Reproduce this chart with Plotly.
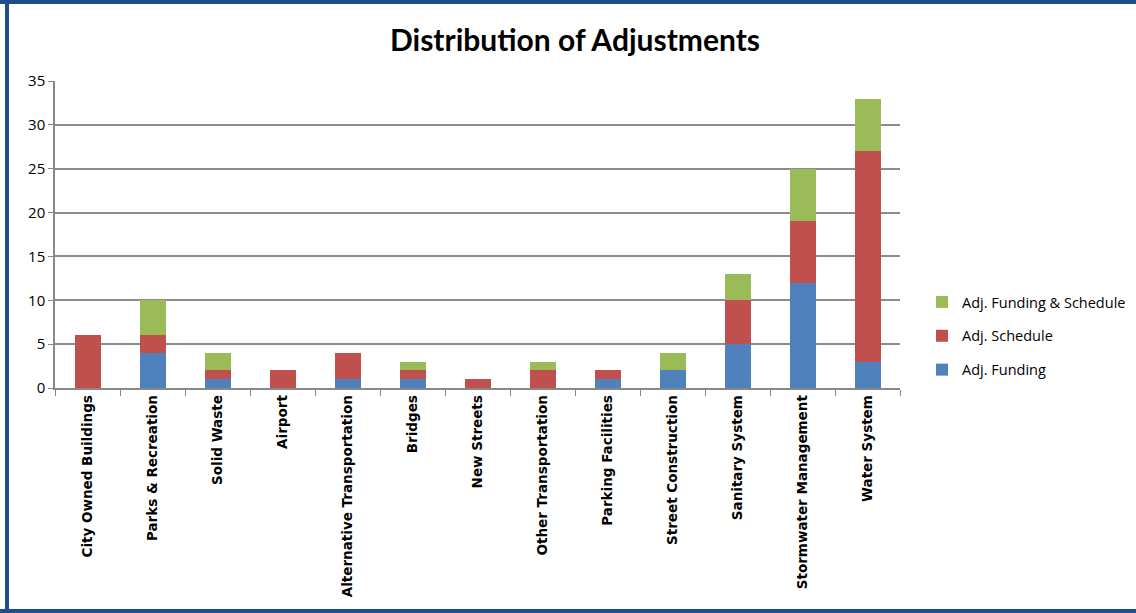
import plotly.graph_objects as go

categories = ["City Owned Buildings", "Parks & Recreation", "Solid Waste", "Airport",
              "Alternative Transportation", "Bridges", "New Streets", "Other Transportation",
              "Parking Facilities", "Street Construction", "Sanitary System",
              "Stormwater Management", "Water System"]
adj_funding = [0, 4, 1, 0, 1, 1, 0, 0, 1, 2, 5, 12, 3]
adj_schedule = [6, 2, 1, 2, 3, 1, 1, 2, 1, 0, 5, 7, 24]
adj_both = [0, 4, 2, 0, 0, 1, 0, 1, 0, 2, 3, 6, 6]

series = [
    ("Adj. Funding", adj_funding, "#4f81bd", 3),
    ("Adj. Schedule", adj_schedule, "#c0504d", 2),
    ("Adj. Funding & Schedule", adj_both, "#9bbb59", 1),
]

fig = go.Figure()
for name, vals, col, rank in series:
    fig.add_trace(go.Bar(x=categories, y=vals, name=name, marker_color=col,
                         marker_line_width=0, legendgroup=name, legendrank=rank))

W, H = 1136, 613
L, R, T, B = 55, 236, 81, 225
pw, ph = W - L - R, H - T - B

def px_x(p):
    return (p - L) / pw

def px_y(p):
    return (H - B - p) / ph

border = dict(color="#1f4e8c", width=4)
shapes = [
    dict(type="line", xref="paper", yref="paper", x0=px_x(0), x1=px_x(W),
         y0=px_y(2), y1=px_y(2), line=border),
    dict(type="line", xref="paper", yref="paper", x0=px_x(0), x1=px_x(W),
         y0=px_y(H - 2), y1=px_y(H - 2), line=border),
    dict(type="line", xref="paper", yref="paper", x0=px_x(7), x1=px_x(7),
         y0=px_y(0), y1=px_y(H), line=border),
]

fig.update_layout(
    width=W, height=H,
    margin=dict(l=L, r=R, t=T, b=B, autoexpand=False),
    barmode="stack", bargap=0.6,
    plot_bgcolor="white", paper_bgcolor="white",
    title=dict(text="<b>Distribution of Adjustments</b>", x=575 / W, xref="container",
               xanchor="center", y=1 - 40 / H, yref="container", yanchor="middle",
               font=dict(family="Lato", size=30, color="black")),
    legend=dict(x=px_x(922), y=px_y(286), xanchor="left", yanchor="top",
                traceorder="grouped", tracegroupgap=12,
                font=dict(family="Open Sans", size=14.5, color="black"),
                itemwidth=30),
    xaxis=dict(tickangle=-90, tickson="boundaries", ticks="outside", ticklen=6,
               tickcolor="#888", showline=True, linecolor="#888", linewidth=1.5,
               tickfont=dict(family="DejaVu Sans", size=13.5, color="black", weight="bold")),
    yaxis=dict(range=[0, 35], dtick=5, showgrid=True, gridcolor="#8c8c8c", gridwidth=1.5,
               showline=True, linecolor="#888", linewidth=1.5, ticks="outside",
               ticklen=5, tickcolor="#888", zeroline=False,
               tickfont=dict(family="Open Sans", size=15, color="black")),
    shapes=shapes,
)

fig.write_html("out.html", config={"displayModeBar": False},
               post_script="document.body.style.margin='0';document.body.style.overflow='hidden';document.documentElement.style.overflow='hidden';")
